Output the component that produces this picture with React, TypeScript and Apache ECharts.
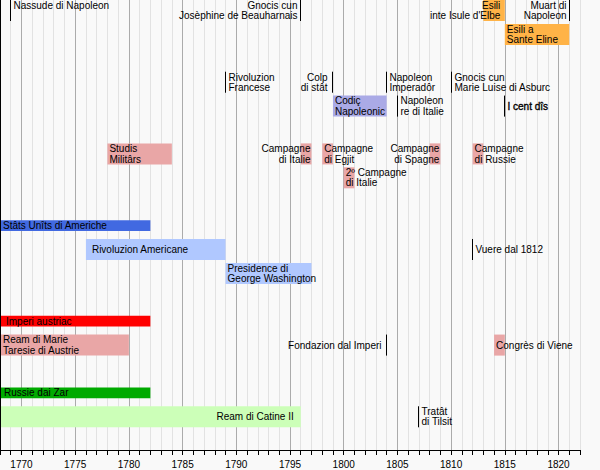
import React, { useEffect, useRef } from "react";
import * as echarts from "echarts";

// ---- axis range (years) ----
const yearMin = 1768;
const yearMax = 1822;
const rowCount = 18.83; // visible lanes (in lane units)

// ---- periods: [label, startYear, endYear, lane, colourKey, labelAlign] ----
const napoleonPeriods: [string, number, number, number, string, string][] = [
  ["Esili\ninte Isule d'Elbe", 1813, 1815, 0, "exile", "right"],
  ["Esili a\nSante Eline", 1815, 1821, 1, "exile", "left"],
  ["Codiç\nNapoleonic", 1799, 1804, 4, "code", "left"],
  ["Studis\nMilitârs", 1778, 1784, 6, "war", "left"],
  ["Campagne\ndi Italie", 1796, 1797, 6, "war", "right"],
  ["Campagne\ndi Egjit", 1798, 1799, 6, "war", "left"],
  ["Campagne\ndi Spagne", 1808, 1809, 6, "war", "right"],
  ["Campagne\ndi Russie", 1812, 1813, 6, "war", "left"],
  ["2º Campagne\ndi Italie", 1800, 1801, 7, "war", "left"],
];
const usaPeriods: [string, number, number, number, string, string][] = [
  ["Stâts Unîts di Americhe", 1768, 1782, 9, "usa", "left"],
  ["Rivoluzion Americane", 1776, 1789, 10, "usaLight", "left"],
  ["Presidence di\nGeorge Washington", 1789, 1797, 11, "usaLight", "left"],
];
const austriaPeriods: [string, number, number, number, string, string][] = [
  ["Imperi austriac", 1768, 1782, 13, "austria", "left"],
  ["Ream di Marie\nTaresie di Austrie", 1768, 1780, 14, "war", "left"],
  ["Congrès di Viene", 1814, 1815, 14, "war", "left"],
];
const russiaPeriods: [string, number, number, number, string, string][] = [
  ["Russie dai Zar", 1768, 1782, 16, "russia", "left"],
  ["Ream di Catine II", 1768, 1796, 17, "russiaLight", "right"],
];

// ---- events: [label, year, lane, labelAlign] ----
const napoleonEvents: [string, number, number, string][] = [
  ["Nassude di Napoleon", 1769, 0, "left"],
  ["Gnocis cun\nJosèphine de Beauharnais", 1796, 0, "right"],
  ["Muart di\nNapoleon", 1821, 0, "right"],
  ["Rivoluzion\nFrancese", 1789, 3, "left"],
  ["Colp\ndi stât", 1799, 3, "right"],
  ["Napoleon\nImperadôr", 1804, 3, "left"],
  ["Gnocis cun\nMarie Luise di Asburc", 1810, 3, "left"],
  ["Napoleon\nre di Italie", 1805, 4, "left"],
  ["I cent dîs", 1815, 4, "left"],
];
const usaEvents: [string, number, number, string][] = [["Vuere dal 1812", 1812, 10, "left"]];
const austriaEvents: [string, number, number, string][] = [["Fondazion dal Imperi", 1804, 14, "right"]];
const russiaEvents: [string, number, number, string][] = [["Tratât\ndi Tilsit", 1807, 17, "left"]];

const periods = [...napoleonPeriods, ...usaPeriods, ...austriaPeriods, ...russiaPeriods];
const events = [...napoleonEvents, ...usaEvents, ...austriaEvents, ...russiaEvents];

// ---- styles ----
const FONT = "'Liberation Sans', Arial, Helvetica, sans-serif";
const colours: Record<string, string> = {
  exile: "#ffb347",
  code: "#aaaae6",
  war: "#e9a6a6",
  usa: "#4169e1",
  usaLight: "#b0c8ff",
  austria: "#ff0000",
  russia: "#00aa00",
  russiaLight: "#ccffb8",
};
const thinKeys = ["usa", "austria", "russia"];
const laneCenter = 0.44;
const fullHalf = 0.44;
const thinHalf = 0.225;
const labelPad: Record<string, number> = {
  "Rivoluzion Americane": 6,
  "Ream di Catine II": 7,
  "Esili\ninte Isule d'Elbe": 4.5,
  "Stâts Unîts di Americhe": 3,
  "Imperi austriac": 6,
  "Russie dai Zar": 4,
  "Ream di Marie\nTaresie di Austrie": 3,
  "Colp\ndi stât": 5,
  "Fondazion dal Imperi": 5,
};
const topAligned = ["Nassude di Napoleon"];
const heavyLabels = ["I cent dîs"];
const bg = "#f9f9f9";
const gridLight = "#e2e2e2";
const gridDark = "#ababab";

function textEl(label: string, x: number, y: number, align: string, vAlign: string) {
  const heavy = heavyLabels.includes(label);
  return {
    type: "text",
    z2: 10,
    style: {
      text: label,
      x,
      y,
      align,
      verticalAlign: vAlign,
      fill: "#000",
      fontSize: 10,
      fontFamily: FONT,
      lineHeight: 10.3,
      stroke: heavy ? "#000" : undefined,
      lineWidth: heavy ? 0.35 : 0,
    },
  };
}

export default function App() {
  const ref = useRef<HTMLDivElement>(null);
  useEffect(() => {
    if (!ref.current) return;
    const chart = echarts.init(ref.current, undefined, { renderer: "svg" });

    const splitColours: string[] = [];
    for (let j = 0; j < 5; j++) splitColours.push((yearMin + j) % 5 === 0 ? gridDark : gridLight);

    const option: any = {
      animation: false,
      backgroundColor: bg,
      grid: { left: 0, right: 20, top: 0, bottom: 20, containLabel: false, outerBoundsMode: "none" },
      xAxis: {
        type: "value",
        min: yearMin,
        max: yearMax,
        interval: 1,
        axisLine: { show: true, onZero: false, lineStyle: { color: "#000", width: 1 } },
        axisTick: { show: true, length: 5, lineStyle: { color: "#000", width: 1 } },
        axisLabel: {
          color: "#000",
          fontSize: 10,
          fontFamily: FONT,
          margin: 9,
          formatter: (v: number) => (v % 5 === 0 ? String(v) : ""),
        },
        splitLine: { show: true, lineStyle: { color: splitColours, width: 1 } },
      },
      yAxis: {
        type: "value",
        min: 0,
        max: rowCount,
        inverse: true,
        z: 10,
        axisLine: { show: true, onZero: false, lineStyle: { color: "#000", width: 1 } },
        axisTick: { show: false },
        axisLabel: { show: false },
        splitLine: { show: false },
      },
      series: [
        {
          type: "custom",
          name: "periods",
          clip: false,
          encode: { x: [0, 1], y: 2 },
          data: periods.map((p) => [p[1], p[2], p[3]]),
          renderItem: (params: any, api: any) => {
            const [label, start, end, lane, key, align] = periods[params.dataIndex];
            const half = thinKeys.includes(key) ? thinHalf : fullHalf;
            const cy = lane + laneCenter;
            const a = api.coord([start, cy - half]);
            const b = api.coord([end, cy + half]);
            const mid = api.coord([start, cy])[1];
            const x0 = Math.min(a[0], b[0]);
            const x1 = Math.max(a[0], b[0]);
            const y0 = Math.min(a[1], b[1]);
            const y1 = Math.max(a[1], b[1]);
            const pad = labelPad[label] ?? (align === "right" ? 1 : 2);
            const tx = align === "right" ? x1 - pad : x0 + pad;
            return {
              type: "group",
              children: [
                {
                  type: "rect",
                  z2: 0,
                  shape: { x: x0, y: y0, width: x1 - x0, height: y1 - y0 },
                  style: { fill: colours[key] },
                },
                textEl(label, tx, mid, align, "middle"),
              ],
            };
          },
        },
        {
          type: "custom",
          name: "events",
          clip: false,
          encode: { x: 0, y: 1 },
          data: events.map((e) => [e[1], e[2]]),
          renderItem: (params: any, api: any) => {
            const [label, year, lane, align] = events[params.dataIndex];
            const a = api.coord([year, lane + laneCenter - fullHalf]);
            const b = api.coord([year, lane + laneCenter + fullHalf]);
            const mid = api.coord([year, lane + laneCenter])[1];
            const x = Math.round(a[0] - 0.5) + 0.5;
            const y0 = Math.min(a[1], b[1]);
            const y1 = Math.max(a[1], b[1]);
            const pad = labelPad[label] ?? 3;
            const tx = align === "right" ? x - pad : x + pad;
            const isTop = topAligned.includes(label);
            return {
              type: "group",
              children: [
                {
                  type: "line",
                  z2: 5,
                  shape: { x1: x, y1: y0, x2: x, y2: y1 },
                  style: { stroke: "#000", lineWidth: 1 },
                },
                textEl(label, tx, isTop ? y0 + 0.5 : mid, align, isTop ? "top" : "middle"),
              ],
            };
          },
        },
      ],
    };
    chart.setOption(option);
    return () => chart.dispose();
  }, []);
  return <div ref={ref} style={{ position: "absolute", left: 0, top: 0, width: 600, height: 470 }} />;
}
